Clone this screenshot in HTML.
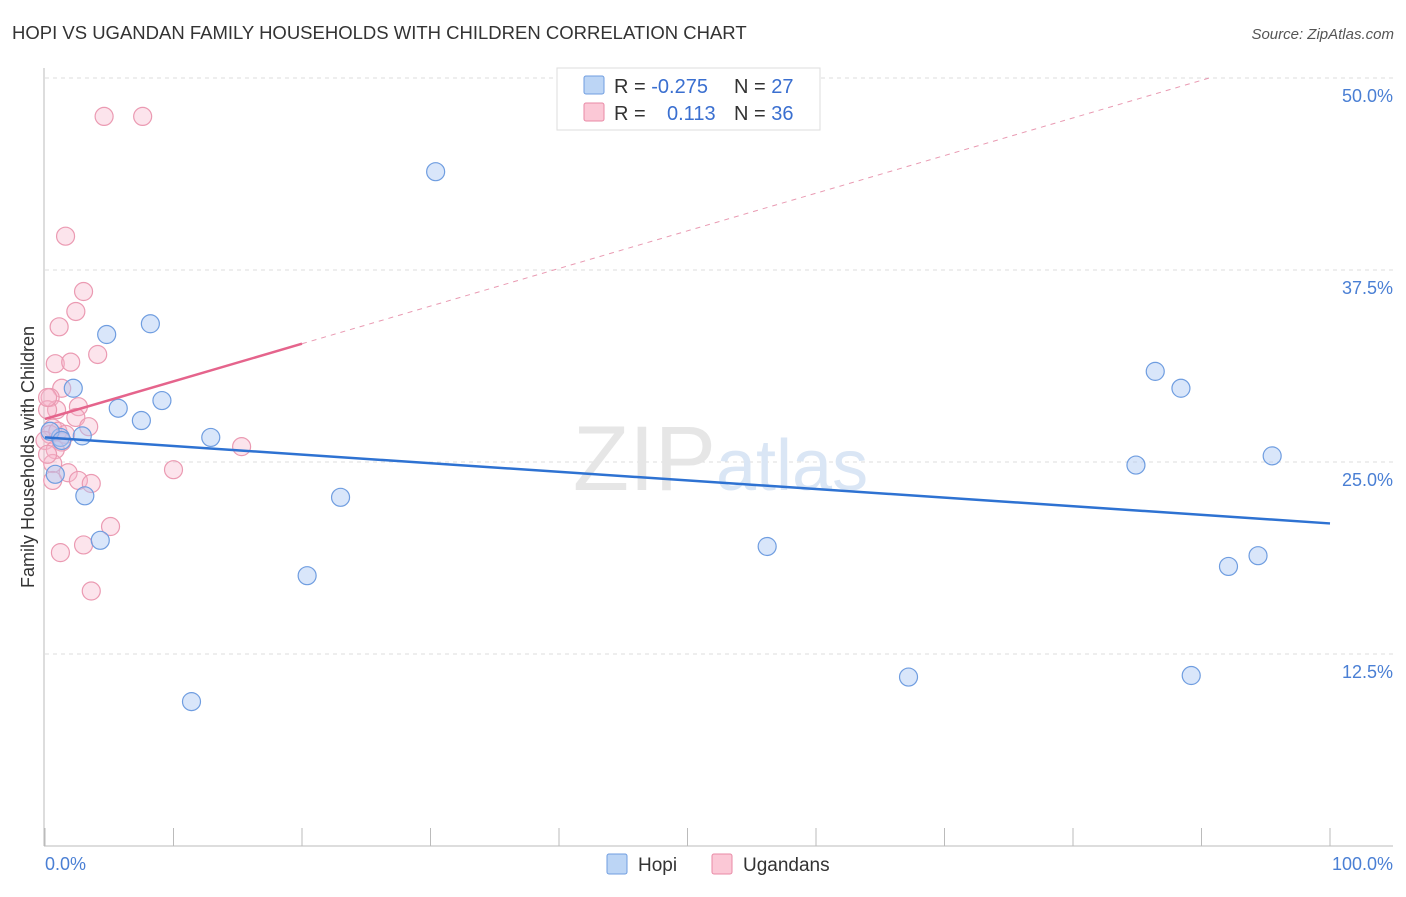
<!DOCTYPE html>
<html><head><meta charset="utf-8"><style>
body{margin:0;background:#fff;font-family:"Liberation Sans",sans-serif;}
svg text{font-family:"Liberation Sans",sans-serif;}
</style></head><body>
<svg width="1406" height="892" viewBox="0 0 1406 892">
<text x="12" y="39" font-size="18.5" fill="#333">HOPI VS UGANDAN FAMILY HOUSEHOLDS WITH CHILDREN CORRELATION CHART</text>
<text x="1394" y="39" font-size="15" fill="#555" text-anchor="end" font-style="italic">Source: ZipAtlas.com</text>
<g id="grid"></g>
<text x="716" y="490" font-size="92" fill="#e6e6e6" text-anchor="end" font-family="Liberation Serif">ZIP</text>
<text x="716" y="490" font-size="72" fill="#dae6f5">atlas</text>
<line x1="44" y1="68" x2="44" y2="846" stroke="#bbb"/>
<line x1="44" y1="846" x2="1393" y2="846" stroke="#bbb"/>
<g id="ticks"></g>
<text x="45" y="870" font-size="18" fill="#4a7fd4">0.0%</text>
<text x="1393" y="870" font-size="18" fill="#4a7fd4" text-anchor="end">100.0%</text>
<text transform="translate(34,457) rotate(-90)" font-size="18" fill="#333" text-anchor="middle">Family Households with Children</text>
<g id="pts"></g>
<g id="trend"></g>
<g>
<rect x="557" y="68" width="263" height="62" fill="#fff" stroke="#ddd"/>
<rect x="584" y="76" width="20" height="18" fill="#bcd5f5" stroke="#6f9de0" rx="2"/>
<rect x="584" y="103" width="20" height="18" fill="#fbc8d6" stroke="#e98aa6" rx="2"/>
<text x="614" y="93" font-size="20" fill="#333">R = <tspan fill="#3a6fd0">-0.275</tspan><tspan x="734">N = </tspan><tspan fill="#3a6fd0">27</tspan></text>
<text x="614" y="120" font-size="20" fill="#333">R = <tspan x="667" fill="#3a6fd0">0.113</tspan><tspan x="734">N = </tspan><tspan fill="#3a6fd0">36</tspan></text>
</g>
<g>
<rect x="607" y="854" width="20" height="20" fill="#bcd5f5" stroke="#6f9de0" rx="2"/>
<text x="638" y="871" font-size="19" fill="#333">Hopi</text>
<rect x="712" y="854" width="20" height="20" fill="#fbc8d6" stroke="#e98aa6" rx="2"/>
<text x="743" y="871" font-size="19" fill="#333">Ugandans</text>
</g>
</svg>
<script>
const yTicks=[12.5,25,37.5,50];
const yTickLabels=["12.5%","25.0%","37.5%","50.0%"];
const hopiX=[30.4,8.2,4.8,2.2,9.1,5.7,7.5,2.9,1.2,12.9,0.8,3.1,23.0,4.3,20.4,11.4,56.2,67.2,86.4,88.4,84.9,95.5,92.1,94.4,89.2,0.4,1.3];
const hopiY=[43.9,34.0,33.3,29.8,29.0,28.5,27.7,26.7,26.6,26.6,24.2,22.8,22.7,19.9,17.6,9.4,19.5,11.0,30.9,29.8,24.8,25.4,18.2,18.9,11.1,27.0,26.4];
const ugX=[4.6,7.6,1.6,3.0,2.4,1.1,4.1,0.8,2.0,1.3,0.4,0.9,2.6,0.2,2.4,3.4,0.6,0.4,0.0,1.3,0.8,0.6,15.3,10.0,1.8,2.6,3.6,0.6,5.1,3.0,1.2,3.6,0.2,1.0,0.2,1.6];
const ugY=[47.5,47.5,39.7,36.1,34.8,33.8,32.0,31.4,31.5,29.8,29.2,28.4,28.6,28.4,27.9,27.3,27.2,26.8,26.4,26.3,25.8,24.9,26.0,24.5,24.3,23.8,23.6,23.8,20.8,19.6,19.1,16.6,29.2,27.0,25.5,26.8];
const hopiTrend=[26.6,21.0];
const ugTrend=[27.8,32.7];
const NS="http://www.w3.org/2000/svg";
const X=v=>45+v*12.85, Y=v=>846-v*15.36;
function mk(t,a,p){const e=document.createElementNS(NS,t);for(const k in a)e.setAttribute(k,a[k]);document.getElementById(p).appendChild(e);return e;}
yTicks.forEach((t,i)=>{
 const l=mk('line',{x1:45,x2:1393,y1:Y(t),y2:Y(t),stroke:'#ddd','stroke-dasharray':'4,4'},'grid');
 
 
 const tx=mk('text',{x:1393,y:Y(t)+24,'font-size':18,fill:'#4a7fd4','text-anchor':'end'},'grid');
 tx.textContent=yTickLabels[i];
 
 
});
for(let i=0;i<=10;i++){
 const l=mk('line',{x1:X(i*10),x2:X(i*10),y1:828,y2:846,stroke:'#bbb'},'ticks');
 
 
}
ugX.forEach((x,i)=>{
 const c=mk('circle',{cx:X(x),cy:Y(ugY[i]),r:9,fill:'rgba(248,185,205,0.38)',stroke:'#eb9ab2','stroke-width':1.2},'pts');
 
 
});
hopiX.forEach((x,i)=>{
 const c=mk('circle',{cx:X(x),cy:Y(hopiY[i]),r:9,fill:'rgba(170,200,245,0.45)',stroke:'#6f9de0','stroke-width':1.2},'pts');
 
 
});
const slope=(ugTrend[1]-ugTrend[0])/20;
const xEnd=(50-ugTrend[0])/slope;
const d=mk('line',{x1:X(20),y1:Y(ugTrend[1]),x2:X(xEnd),y2:Y(50),stroke:'#e99ab2','stroke-dasharray':'5,5'},'trend');


const u=mk('line',{x1:X(0),y1:Y(ugTrend[0]),x2:X(20),y2:Y(ugTrend[1]),stroke:'#e5648c','stroke-width':2.5},'trend');


const h=mk('line',{x1:X(0),y1:Y(hopiTrend[0]),x2:X(100),y2:Y(hopiTrend[1]),stroke:'#2e72d2','stroke-width':2.5},'trend');


</script>
</body></html>
